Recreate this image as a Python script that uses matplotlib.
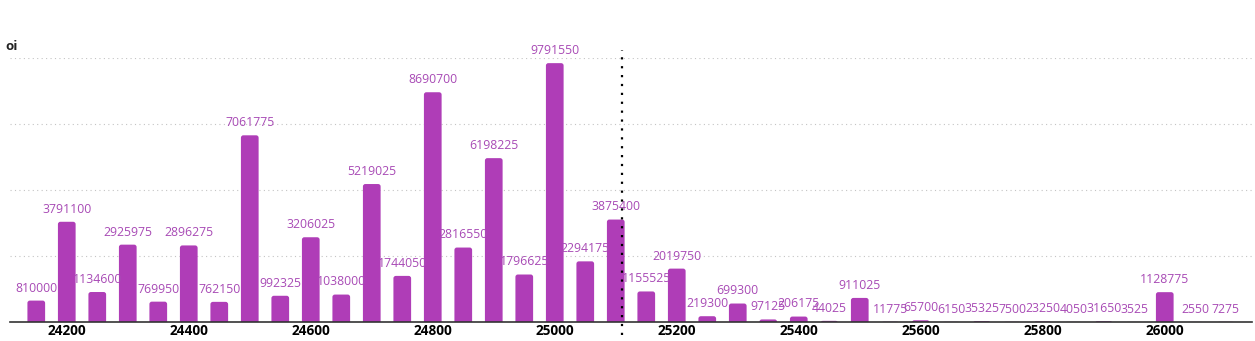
import matplotlib
matplotlib.use("Agg")
import matplotlib.pyplot as plt
from matplotlib.patches import FancyBboxPatch

strikes = [24150, 24200, 24250, 24300, 24350, 24400, 24450, 24500, 24550, 24600,
           24650, 24700, 24750, 24800, 24850, 24900, 24950, 25000, 25050, 25100,
           25150, 25200, 25250, 25300, 25350, 25400, 25450, 25500, 25550, 25600,
           25650, 25700, 25750, 25800, 25850, 25900, 25950, 26000, 26050, 26100]
oi = [810000, 3791100, 1134600, 2925975, 769950, 2896275, 762150, 7061775, 992325, 3206025,
      1038000, 5219025, 1744050, 8690700, 2816550, 6198225, 1796625, 9791550, 2294175, 3875400,
      1155525, 2019750, 219300, 699300, 97125, 206175, 44025, 911025, 11775, 65700,
      6150, 35325, 7500, 23250, 4050, 31650, 3525, 1128775, 2550, 7275]
tick_strikes = [24200, 24400, 24600, 24800, 25000, 25200, 25400, 25600, 25800, 26000]
spot = 25110

bar_color = '#af3db7'
label_color = '#a84ab5'

plt.rcParams['font.family'] = ['Open Sans', 'DejaVu Sans']

fig = plt.figure(figsize=(12.55, 3.41), dpi=100)
ax = fig.add_axes([0.008, 0.0557, 0.9896, 0.7753])

bars = ax.bar(strikes, oi, width=29, color=bar_color, zorder=2)
# swap plain rects for ones with rounded tops (bottom hidden below y=0)
r = 4
asp = 23000
for rect in bars.patches:
    x, w, h = rect.get_x(), rect.get_width(), rect.get_height()
    rect.set_visible(False)
    ext = 300000
    p = FancyBboxPatch((x, -ext), w, h + ext,
                       boxstyle=f"round,pad=0,rounding_size={r}",
                       mutation_aspect=asp, facecolor=bar_color,
                       edgecolor='none', zorder=2)
    ax.add_patch(p)

for s, v in zip(strikes, oi):
    ax.text(s, v + 230000, str(v), ha='center', va='bottom', fontsize=8.8,
            color=label_color, zorder=3)

ax.set_xlim(24107, 26143)
ax.set_ylim(0, 10000000)
ax.set_yticks([2500000, 5000000, 7500000, 10000000])
ax.set_yticklabels([])
ax.tick_params(axis='y', length=0)
ax.grid(axis='y', linestyle=(0, (1, 3)), color='#c4c4c4', linewidth=0.8, zorder=0)

ax.set_xticks(tick_strikes)
ax.set_xticklabels([str(t) for t in tick_strikes], fontweight='bold', fontsize=9.8)
ax.tick_params(axis='x', length=0, pad=1.5)

for sp in ['top', 'right', 'left']:
    ax.spines[sp].set_visible(False)
ax.spines['bottom'].set_color('#333333')
ax.spines['bottom'].set_linewidth(1.2)
ax.spines['bottom'].set_zorder(5)

ax.plot([spot, spot], [-0.05, 1.03], transform=ax.get_xaxis_transform(),
        color='black', linestyle=(0, (1, 3)), linewidth=1.6, clip_on=False, zorder=4)

fig.text(0.004, 0.852, 'oi', fontweight='bold', fontsize=9.5, color='#222222')

fig.savefig('out.png', dpi=100)
